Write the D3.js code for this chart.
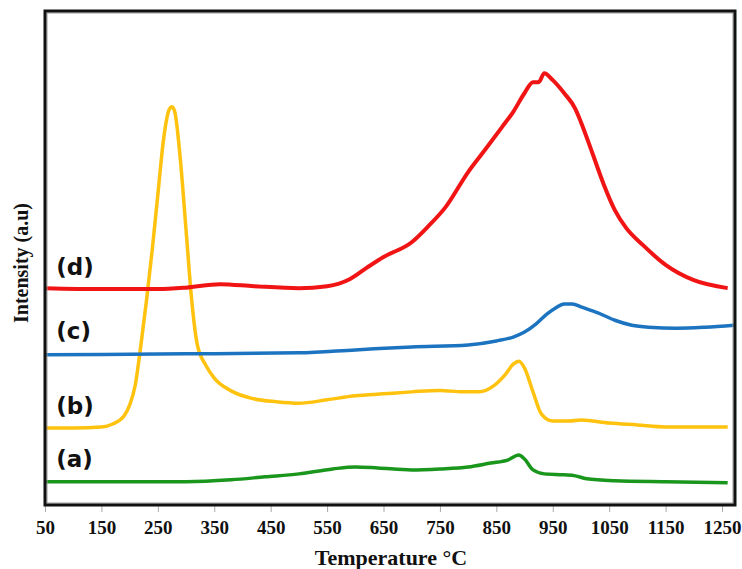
<!DOCTYPE html>
<html>
<head>
<meta charset="utf-8">
<script src="https://cdn.jsdelivr.net/npm/d3@7"></script>
<style>
  body { margin: 0; background: #fff; }
  svg { display: block; }
</style>
</head>
<body>
<div id="chart"></div>
<script>
// x ticks (temperature, °C)
const xTicks = [50, 150, 250, 350, 450, 550, 650, 750, 850, 950, 1050, 1150, 1250];

// TPR traces, [temperature, intensity a.u.]
const traceA = [[50, 4.7], [200, 4.7], [300, 4.7], [380, 5.1], [440, 5.7], [500, 6.3], [560, 7.3], [600, 7.7],
  [640, 7.5], [700, 7.1], [750, 7.3], [800, 7.7], [840, 8.5], [870, 9.1], [890, 10.1], [900, 9.3], [915, 7.1],
  [935, 6.3], [970, 6.1], [990, 5.9], [1010, 5.3], [1060, 4.9], [1150, 4.7], [1260, 4.5]];

const traceB = [[50, 15.6], [100, 15.6], [150, 15.8], [170, 16.4], [190, 18.0], [200, 20.2], [210, 24.3],
  [220, 32.4], [230, 41.5], [240, 51.6], [250, 62.8], [260, 73.9], [270, 80.0], [275, 80.6], [280, 79.6],
  [290, 69.8], [300, 55.7], [310, 41.5], [320, 32.4], [335, 28.3], [350, 25.7], [380, 23.1], [420, 21.5],
  [460, 20.9], [500, 20.6], [550, 21.3], [600, 22.1], [650, 22.5], [700, 22.9], [750, 23.2], [790, 22.9],
  [820, 22.9], [845, 24.1], [865, 26.3], [880, 28.5], [890, 29.1], [900, 27.7], [915, 22.9], [930, 18.4],
  [950, 17.0], [980, 17.0], [1000, 17.2], [1050, 16.6], [1100, 16.2], [1150, 15.8], [1260, 15.8]];

const traceC = [[50, 30.4], [300, 30.6], [500, 30.8], [600, 31.4], [700, 32.0], [800, 32.4], [850, 33.2],
  [880, 34.0], [900, 35.0], [920, 36.6], [940, 38.7], [955, 39.9], [970, 40.7], [985, 40.7], [1000, 40.1],
  [1030, 38.9], [1060, 37.4], [1090, 36.4], [1120, 36.0], [1170, 35.8], [1220, 36.0], [1272, 36.4]];

const traceD = [[50, 43.9], [150, 43.7], [250, 43.7], [300, 44.0], [360, 44.7], [420, 44.3], [500, 43.9],
  [550, 44.3], [590, 45.7], [620, 48.0], [650, 50.2], [700, 53.2], [730, 56.5], [760, 60.3], [800, 67.4],
  [830, 71.9], [860, 76.5], [880, 79.6], [900, 83.4], [915, 85.6], [925, 85.6], [935, 87.4], [950, 86.0],
  [970, 83.4], [990, 80.2], [1000, 77.5], [1020, 71.3], [1040, 65.0], [1060, 59.7], [1080, 56.1],
  [1110, 52.6], [1150, 48.6], [1200, 45.5], [1260, 43.9]];

const seriesNames = ["(a)", "(b)", "(c)", "(d)"];
const seriesColors = ["#1a961c", "#ffc20e", "#1c74c0", "#f01414"];
const traces = [traceA, traceB, traceC, traceD];
// label anchor for each trace: [temperature, intensity]
const labelPos = [[70, 7.7], [70, 18.4], [70, 33.6], [70, 46.6]];

const W = 742, H = 569;
const box = {left: 45, right: 735, top: 11, bottom: 505};

const svg = d3.select("#chart").append("svg")
    .attr("width", W)
    .attr("height", H);

const x = d3.scaleLinear().domain([50, 1273]).range([box.left, box.right]);
const y = d3.scaleLinear().domain([0, 100]).range([box.bottom, box.top]);

svg.append("clipPath").attr("id", "clip")
    .append("rect")
    .attr("x", box.left).attr("y", box.top)
    .attr("width", box.right - box.left).attr("height", box.bottom - box.top);

// bottom ticks
const xAxis = svg.append("g")
    .attr("transform", `translate(0, ${box.bottom + 1})`)
    .call(d3.axisBottom(x).tickValues(xTicks).tickSize(6).tickPadding(9).tickFormat(d3.format("d")));
xAxis.select(".domain").remove();
xAxis.selectAll(".tick line").attr("stroke", "#aaa");
xAxis.selectAll(".tick text")
    .attr("fill", "#111")
    .style("font-family", "'Liberation Serif', 'Times New Roman', serif")
    .style("font-weight", "bold")
    .style("font-size", "19px");

// traces
const line = d3.line()
    .curve(d3.curveMonotoneX)
    .x(d => x(d[0]))
    .y(d => y(d[1]));

const g = svg.append("g").attr("clip-path", "url(#clip)");
traces.forEach((t, i) => {
    g.append("path")
        .datum(t)
        .attr("fill", "none")
        .attr("stroke", seriesColors[i])
        .attr("stroke-width", i === 3 ? 4 : 3.5)
        .attr("stroke-linejoin", "round")
        .attr("d", line);
});

// frame
svg.append("rect")
    .attr("x", box.left + 2).attr("y", box.top + 2)
    .attr("width", box.right - box.left - 4).attr("height", box.bottom - box.top - 4)
    .attr("fill", "none")
    .attr("stroke", "#999")
    .attr("stroke-width", 1);
svg.append("rect")
    .attr("x", box.left).attr("y", box.top)
    .attr("width", box.right - box.left).attr("height", box.bottom - box.top)
    .attr("fill", "none")
    .attr("stroke", "#111")
    .attr("stroke-width", 3);

// series labels
svg.selectAll("text.lab")
    .data(seriesNames)
    .join("text")
    .attr("class", "lab")
    .attr("x", (d, i) => x(labelPos[i][0]))
    .attr("y", (d, i) => y(labelPos[i][1]))
    .attr("fill", "#111")
    .style("font-family", "'DejaVu Sans', Verdana, sans-serif")
    .style("font-weight", "bold")
    .style("font-size", "23px")
    .text(d => d);

// axis titles
svg.append("text")
    .attr("x", 391)
    .attr("y", 565)
    .attr("text-anchor", "middle")
    .attr("fill", "#111")
    .style("font-family", "'Liberation Serif', 'Times New Roman', serif")
    .style("font-weight", "bold")
    .style("font-size", "22px")
    .text("Temperature °C");

svg.append("text")
    .attr("transform", `translate(28, 263) rotate(-90)`)
    .attr("text-anchor", "middle")
    .attr("fill", "#111")
    .style("font-family", "'Liberation Serif', 'Times New Roman', serif")
    .style("font-weight", "bold")
    .style("font-size", "20px")
    .text("Intensity (a.u)");
</script>
</body>
</html>
